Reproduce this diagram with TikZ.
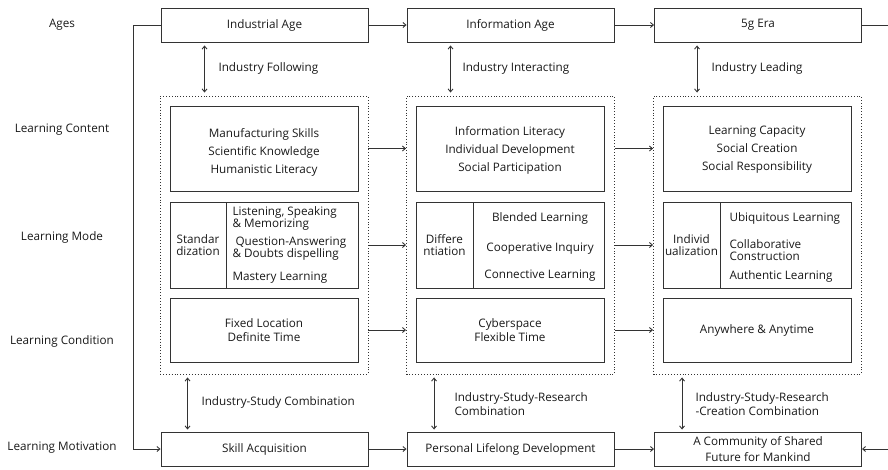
\documentclass[tikz,border=0pt]{standalone}
\usepackage{fontspec}
\setmainfont{Open Sans}
\usetikzlibrary{arrows.meta}

\begin{document}
\begin{tikzpicture}[x=1pt, y=-1pt, font=\fontsize{11.7}{12}\selectfont,
  every node/.style={text=black!90},
  box/.style={draw=black!80, line width=0.9pt, inner sep=0pt, align=center},
  agebox/.style={box, minimum width=207pt, minimum height=34pt},
  group/.style={draw=black!80, dotted, line width=0.9pt, minimum width=208pt, minimum height=278pt},
  content/.style={box, minimum width=188pt, minimum height=85pt},
  contenttext/.style={align=center, font=\fontsize{11.7}{18}\selectfont},
  cond/.style={box, minimum width=188pt, minimum height=64pt, font=\fontsize{11.7}{14}\selectfont},
  twoline/.style={anchor=west, align=left, font=\fontsize{11.7}{14}\selectfont},
  line/.style={draw=black!80, line width=0.9pt},
  >={Straight Barb[length=3pt,width=5pt]}]
  \useasboundingbox (0,0) rectangle (888,469);

  % row labels
  \node (lblage)  at (62,25)  {Ages};
  \node (lblcont) at (62,130) {Learning Content};
  \node (lblmode) at (62,237) {Learning Mode};
  \node (lblcond) at (62,341) {Learning Condition};
  \node (lblmot)  at (62,448) {Learning Motivation};

  % ages
  \node[agebox] (age1) at (264.5,25) {Industrial Age};
  \node[agebox] (age2) at (510.5,25) {Information Age};
  \node[agebox] (age3) at (758,25)   {5g Era};

  % groups
  \node[group] (grpA) at (264,235) {};
  \node[group] (grpB) at (510.5,235) {};
  \node[group] (grpC) at (757.5,235) {};

  % learning content
  \node[content] (contA) at (264,148.5) {};
  \node[content] (contB) at (510,148.5) {};
  \node[content] (contC) at (757,148.5) {};
  \node[contenttext] (contAtxt) at (264,152) {Manufacturing Skills\\Scientific Knowledge\\Humanistic Literacy};
  \node[contenttext] (contBtxt) at (510,150) {Information Literacy\\Individual Development\\Social Participation};
  \node[contenttext] (contCtxt) at (757,150) {Learning Capacity\\Social Creation\\Social Responsibility};

  % learning mode
  \node[box, minimum width=56pt, minimum height=86pt] (modeAl) at (198,245) {Standar\\dization};
  \node[box, minimum width=132pt, minimum height=86pt] (modeAr) at (292,245) {};
  \node[anchor=west, align=left] (modeA1) at (229,218) {Listening, Speaking\\\& Memorizing};
  \node[anchor=west, align=left] (modeA2) at (229,249) {\ Question-Answering\\\& Doubts dispelling};
  \node[anchor=west] (modeA3) at (229,278) {Mastery Learning};

  \node[box, minimum width=57pt, minimum height=86pt] (modeBl) at (444.5,245) {Differe\\ntiation};
  \node[box, minimum width=131pt, minimum height=86pt] (modeBr) at (538.5,245) {};
  \node (modeB1) at (540,218) {Blended Learning};
  \node (modeB2) at (540,249) {Cooperative Inquiry};
  \node (modeB3) at (540,276) {Connective Learning};

  \node[box, minimum width=57pt, minimum height=86pt] (modeCl) at (691.5,245) {Individ\\ualization};
  \node[box, minimum width=131pt, minimum height=86pt] (modeCr) at (785.5,245) {};
  \node[anchor=west] (modeC1) at (726,218) {Ubiquitous Learning};
  \node[anchor=west, align=left] (modeC2) at (726,250) {Collaborative\\Construction};
  \node[anchor=west] (modeC3) at (726,276) {Authentic Learning};

  % learning condition
  \node[cond] (condA) at (264,330) {Fixed Location\\Definite Time};
  \node[cond] (condB) at (510,330) {Cyberspace\\Flexible Time};
  \node[cond] (condC) at (757,330) {Anywhere \& Anytime};

  % learning motivation
  \node[agebox] (mot1) at (264.5,449) {Skill Acquisition};
  \node[agebox] (mot2) at (510.5,449) {Personal Lifelong Development};
  \node[agebox, font=\fontsize{11.7}{16}\selectfont] (mot3) at (758,449) {A Community of Shared\\Future for Mankind};

  % relation labels
  \node[anchor=west] (relT1) at (215,68) {Industry Following};
  \node[anchor=west] (relT2) at (459,68) {Industry Interacting};
  \node[anchor=west] (relT3) at (708,68) {Industry Leading};
  \node[anchor=west] (relB1) at (198,402) {Industry-Study Combination};
  \node[twoline] (relB2) at (451,404) {Industry-Study-Research\\Combination};
  \node[twoline] (relB3) at (692,404) {Industry-Study-Research\\-Creation Combination};

  % horizontal flows
  \draw[line, ->] (age1) -- (age2);
  \draw[line, ->] (age2) -- (age3);
  \draw[line, ->] (mot1) -- (mot2);
  \draw[line, ->] (mot2) -- (mot3);
  \draw[line, ->] (grpA.east |- contA) -- (grpB.west |- contA);
  \draw[line, ->] (grpB.east |- contB) -- (grpC.west |- contB);
  \draw[line, ->] (grpA.east |- modeAl) -- (grpB.west |- modeAl);
  \draw[line, ->] (grpB.east |- modeBl) -- (grpC.west |- modeBl);
  \draw[line, ->] (grpA.east |- condA) -- (grpB.west |- condA);
  \draw[line, ->] (grpB.east |- condB) -- (grpC.west |- condB);

  % loop on the left, open ends on the right
  \coordinate (loopT) at (133,25);
  \coordinate (loopB) at (133,449);
  \coordinate (edgeT) at (888,25);
  \coordinate (edgeB) at (888,449);
  \draw[line, ->] (age1.west) -- (loopT) -- (loopB) -- (mot1.west);
  \draw[line] (age3.east) -- (edgeT);
  \draw[line, ->] (edgeB) -- (mot3.east);

  % vertical relations
  \draw[line, <->, shorten <=3pt, shorten >=3pt] ([xshift=44pt]age1.south west) -- ([xshift=44pt]age1.south west |- grpA.north);
  \draw[line, <->, shorten <=3pt, shorten >=3pt] ([xshift=44pt]age2.south west) -- ([xshift=44pt]age2.south west |- grpB.north);
  \draw[line, <->, shorten <=3pt, shorten >=3pt] ([xshift=43pt]age3.south west) -- ([xshift=43pt]age3.south west |- grpC.north);
  \draw[line, <->, shorten <=3pt, shorten >=2pt] ([xshift=28pt]grpA.south west) -- ([xshift=28pt]grpA.south west |- mot1.north);
  \draw[line, <->, shorten <=3pt, shorten >=2pt] ([xshift=28pt]grpB.south west) -- ([xshift=28pt]grpB.south west |- mot2.north);
  \draw[line, <->, shorten <=3pt, shorten >=2pt] ([xshift=29pt]grpC.south west) -- ([xshift=29pt]grpC.south west |- mot3.north);
\end{tikzpicture}
\end{document}
